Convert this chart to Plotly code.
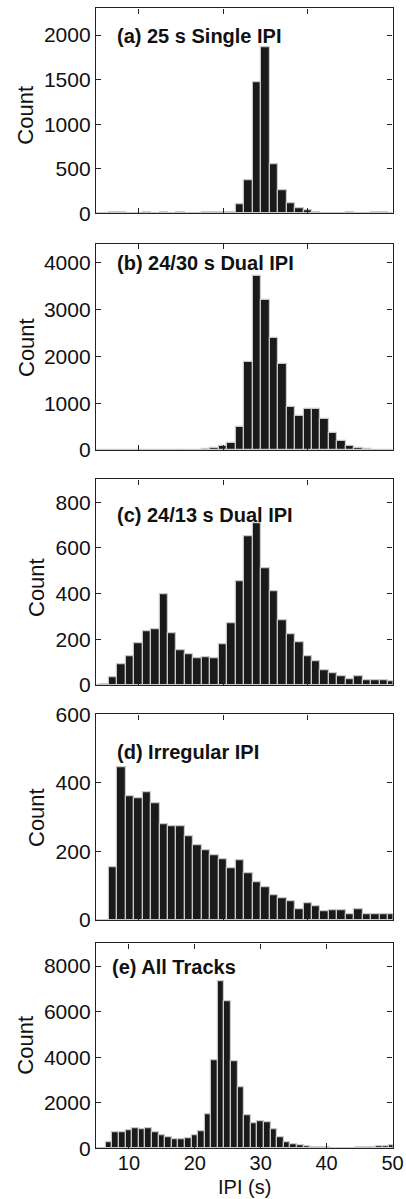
import plotly.graph_objects as go

W, H = 406, 1199

# ---- data (bin centres in s, counts) ----
ipi_short = list(range(5, 41))   # panels a-d
ipi_long = list(range(5, 51))    # panel e

count_a = [0, 5, 8, 6, 3, 3, 8, 3, 8, 3, 8, 3, 3, 6, 8, 15, 12, 105, 370, 1470,
           1860, 555, 260, 110, 55, 35, 12, 3, 3, 3, 6, 3, 3, 6, 6, 3]
count_b = [8, 8, 5, 8, 8, 3, 3, 8, 8, 8, 8, 8, 10, 15, 35, 85, 160, 483, 1876, 3716,
           3197, 2394, 1833, 924, 718, 874, 867, 654, 355, 192, 92, 50, 14, 3, 0, 0]
count_c = [0, 3, 34, 92, 127, 183, 233, 244, 395, 227, 154, 136, 116, 121, 118, 180,
           271, 452, 652, 706, 509, 411, 284, 224, 186, 124, 105, 66, 51, 39, 26, 37,
           20, 20, 19, 17]
count_d = [0, 0, 153, 445, 362, 355, 372, 340, 278, 274, 272, 244, 217, 203, 190, 178,
           150, 175, 135, 109, 96, 72, 62, 56, 32, 49, 41, 25, 28, 28, 18, 30, 18, 18,
           16, 18]
count_e = [0, 15, 263, 686, 686, 774, 861, 832, 861, 700, 555, 482, 409, 409, 423, 569,
           745, 1489, 3854, 7343, 6467, 3839, 2657, 1445, 1080, 1182, 1139, 832, 496,
           280, 170, 131, 73, 44, 30, 25, 20, 15, 15, 20, 30, 40, 60, 70, 90, 110]

titles = ["(a) 25 s Single IPI", "(b) 24/30 s Dual IPI", "(c) 24/13 s Dual IPI",
          "(d) Irregular IPI", "(e) All Tracks"]
y_ranges = [[0, 2300], [0, 4400], [0, 900], [0, 600], [0, 9000]]
y_dticks = [500, 1000, 200, 200, 2000]
x_ranges = [[5, 40]] * 4 + [[5, 50]]
series_x = [ipi_short] * 4 + [ipi_long]
series_y = [count_a, count_b, count_c, count_d, count_e]

# ---- layout geometry (pixels) ----
left_px, right_px = 96, 392.5
panels_px = [(8.3, 213.3), (244, 450), (479.3, 685), (714.3, 920), (943.3, 1148.3)]
title_pos = [(115, 35.7), (115, 263.3), (115, 515), (115, 751.7), (110, 966.7)]
count_pos = [(26, 115.7), (26, 348), (36.5, 587.5), (36.5, 817.5), (26, 1045.7)]

FONT = "Liberation Sans, Arial, Helvetica, sans-serif"
INK = "#1a1a1a"

fig = go.Figure()
layout = dict(
    width=W, height=H, autosize=False,
    margin=dict(l=0, r=0, t=0, b=0, pad=0, autoexpand=False),
    paper_bgcolor="white", plot_bgcolor="white",
    showlegend=False, bargap=0,
    font=dict(family=FONT, size=21, color="#111"),
    annotations=[],
)

for i in range(5):
    n = i + 1
    xa = "x" if n == 1 else f"x{n}"
    ya = "y" if n == 1 else f"y{n}"
    fig.add_trace(go.Bar(
        x=series_x[i], y=series_y[i], xaxis=xa, yaxis=ya, width=1.0,
        marker=dict(color=INK, line=dict(color="#c8c8c8", width=1.2)),
    ))
    top, bot = panels_px[i]
    common = dict(showline=True, mirror="ticks", linecolor="#222", linewidth=1.4,
                  ticks="inside", ticklen=5, tickwidth=1.2, tickcolor="#222",
                  showgrid=False, zeroline=False, automargin=False)
    xaxis = dict(
        domain=[left_px / W, right_px / W], range=x_ranges[i], anchor=ya,
        tick0=0, dtick=10, showticklabels=(i == 4),
        tickfont=dict(size=20), **common)
    if i == 4:
        xaxis["ticklabelstandoff"] = -4
    layout[f"xaxis{'' if n == 1 else n}"] = xaxis
    layout[f"yaxis{'' if n == 1 else n}"] = dict(
        domain=[1 - bot / H, 1 - top / H], range=y_ranges[i], anchor=xa,
        tick0=0, dtick=y_dticks[i], tickfont=dict(size=21), **common)
    tx, ty = title_pos[i]
    layout["annotations"].append(dict(
        text=f"<b>{titles[i]}</b>", x=tx / W, y=1 - ty / H, xref="paper", yref="paper",
        xanchor="left", yanchor="middle", showarrow=False,
        font=dict(size=20, family=FONT, color="#111")))
    cx, cy = count_pos[i]
    layout["annotations"].append(dict(
        text="Count", x=cx / W, y=1 - cy / H, xref="paper", yref="paper",
        xanchor="center", yanchor="middle", showarrow=False, textangle=-90,
        font=dict(size=22, family=FONT, color="#111")))

layout["annotations"].append(dict(
    text="IPI (s)", x=244 / W, y=0, xref="paper", yref="paper",
    xanchor="center", yanchor="bottom", showarrow=False, borderpad=0,
    font=dict(size=20, family=FONT, color="#111")))

fig.update_layout(**layout)
fig.write_html("out.html")
